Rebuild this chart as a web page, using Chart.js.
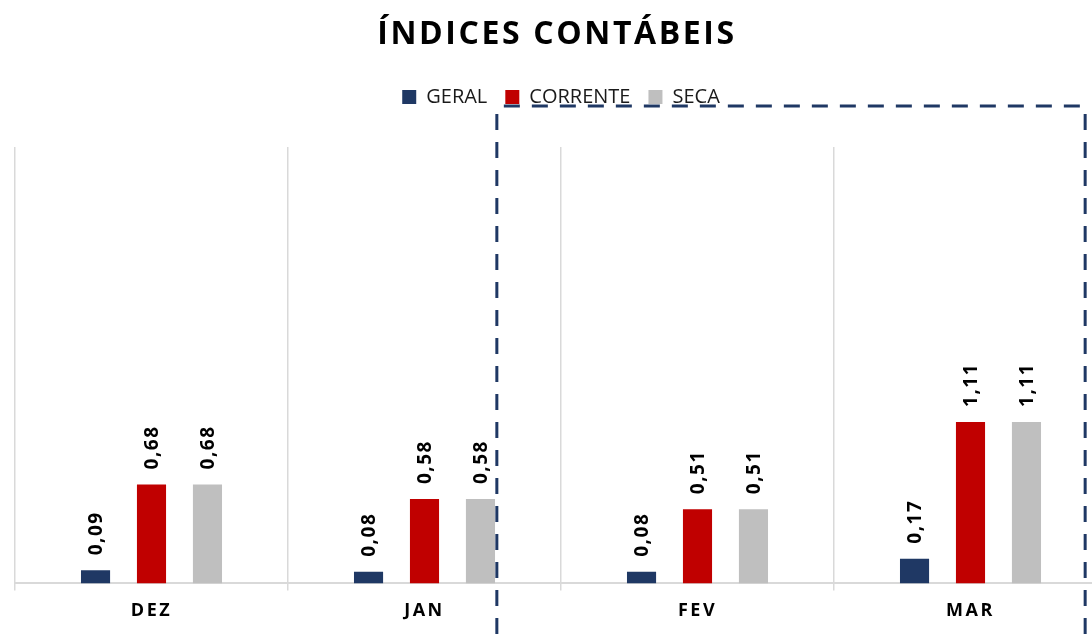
<!DOCTYPE html>
<html>
<head>
<meta charset="utf-8">
<script src="https://cdn.jsdelivr.net/npm/chart.js@4.4.1/dist/chart.umd.min.js"></script>
<style>
    html, body { margin: 0; padding: 0; background: #fff; overflow: hidden; }
    #wrap { position: relative; width: 1092px; height: 634px; overflow: hidden; }
    #box { position: absolute; left: 0; top: 0; width: 1114px; height: 634px; }
    #title {
        position: absolute; left: 0; top: 12px; width: 1114px;
        text-align: center; color: #000;
        font: bold 32px "Open Sans"; line-height: 40px; letter-spacing: 2.6px;
    }
</style>
</head>
<body>
<div id="wrap">
    <div id="box"><canvas id="myChart" width="1114" height="634"></canvas></div>
    <div id="title">ÍNDICES CONTÁBEIS</div>
</div>
<script>
const months = ["DEZ", "JAN", "FEV", "MAR"];
const geral = [0.09, 0.08, 0.08, 0.17];
const corrente = [0.68, 0.58, 0.51, 1.11];
const seca = [0.68, 0.58, 0.51, 1.11];

// extra space between legend and plot area
const legendGap = {
    id: "legendGap",
    beforeInit(chart) {
        const fit = chart.legend.fit;
        chart.legend.fit = function () {
            fit.call(this);
            this.height += 30;
        };
    }
};

// vertical value labels above each bar
const barValueLabels = {
    id: "barValueLabels",
    afterDatasetsDraw(chart) {
        const ctx = chart.ctx;
        ctx.save();
        ctx.font = 'bold 19px "Open Sans"';
        ctx.letterSpacing = "1.5px";
        ctx.fillStyle = "#000";
        ctx.textAlign = "left";
        ctx.textBaseline = "middle";
        chart.data.datasets.forEach((ds, i) => {
            chart.getDatasetMeta(i).data.forEach((bar, j) => {
                ctx.save();
                ctx.translate(bar.x, bar.y - 15);
                ctx.rotate(-Math.PI / 2);
                ctx.fillText(ds.data[j].toFixed(2).replace(".", ","), 0, 1);
                ctx.restore();
            });
        });
        ctx.restore();
        // spaced-out month labels (tick layer drawn after datasets)
        ctx.letterSpacing = "2.5px";
    },
    afterDraw(chart) {
        chart.ctx.letterSpacing = "0px";
    }
};

// dashed frame around FEV / MAR
const dashedFrame = {
    id: "dashedFrame",
    afterDraw(chart) {
        const x = chart.scales.x;
        const ctx = chart.ctx;
        const step = x.getPixelForValue(1) - x.getPixelForValue(0);
        const left = x.getPixelForValue(1) + step * 0.265;
        const right = x.getPixelForValue(3) + step * 0.42;
        const top = chart.chartArea.top - 41;
        const bottom = chart.height + 20;
        ctx.save();
        ctx.strokeStyle = "#1F3864";
        ctx.lineWidth = 3;
        ctx.setLineDash([16, 12]);
        ctx.beginPath();
        ctx.moveTo(left, top + 8);
        ctx.lineTo(left, bottom);
        ctx.moveTo(left + 7, top);
        ctx.lineTo(right, top);
        ctx.moveTo(right, top + 8);
        ctx.lineTo(right, bottom);
        ctx.stroke();
        ctx.restore();
    }
};

const ctx = document.getElementById("myChart").getContext("2d");

new Chart(ctx, {
    type: "bar",
    data: {
        labels: months,
        datasets: [
            { label: "GERAL", data: geral, backgroundColor: "#1F3864" },
            { label: "CORRENTE", data: corrente, backgroundColor: "#C00000" },
            { label: "SECA", data: seca, backgroundColor: "#BFBFBF" }
        ]
    },
    options: {
        responsive: false,
        animation: false,
        categoryPercentage: 0.615,
        barPercentage: 0.52,
        layout: { padding: { top: 69, left: 15, right: 7, bottom: 2 } },
        plugins: {
            title: { display: false },
            tooltip: { enabled: false },
            legend: {
                position: "top",
                labels: {
                    boxWidth: 14,
                    boxHeight: 14,
                    padding: 18,
                    color: "#1a1a1a",
                    font: { family: "Open Sans", size: 20 }
                }
            }
        },
        scales: {
            x: {
                grid: { color: "#d9d9d9", lineWidth: 1.5, tickLength: 7 },
                border: { color: "#d9d9d9", width: 2 },
                ticks: {
                    z: 1,
                    padding: 10,
                    color: "#000",
                    font: { family: "Open Sans", size: 18, weight: "bold" }
                }
            },
            y: { display: false, min: 0, max: 3 }
        }
    },
    plugins: [legendGap, dashedFrame, barValueLabels]
});
</script>
</body>
</html>
